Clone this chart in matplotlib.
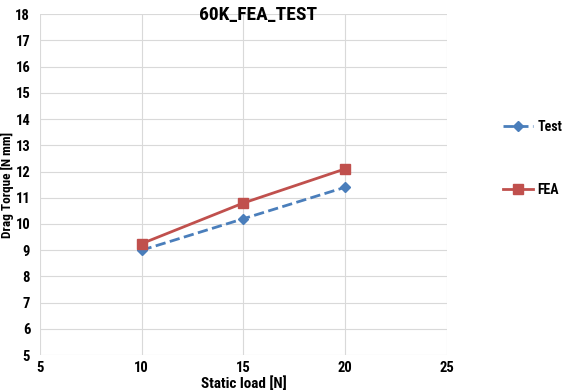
import matplotlib
matplotlib.use('Agg')
import matplotlib.pyplot as plt

load = [10, 15, 20]
test = [9.0, 10.2, 11.4]
fea = [9.25, 10.8, 12.1]
xticks = [5, 10, 15, 20, 25]
yticks = list(range(5, 19))

plt.rcParams['font.family'] = ['Roboto Condensed', 'DejaVu Sans']

fig = plt.figure(figsize=(5.7, 3.92), dpi=100)
ax = fig.add_axes([0.070, 0.094, 0.714, 0.870])
ax.plot(load, test, color='#4a7ebb', ls='--', lw=2, marker='D', ms=5, label='Test')
ax.plot(load, fea, color='#c0504d', lw=2, marker='s', ms=7, label='FEA')
ax.set_xlim(5, 25)
ax.set_ylim(5, 18)
ax.set_xticks(xticks)
ax.set_yticks(yticks)
ax.grid(True, color='#d9d9d9', lw=0.8)
ax.set_axisbelow(True)
for s in ax.spines.values():
    s.set_visible(False)
ax.tick_params(length=0, labelsize=10.5)
ax.tick_params(axis='x', pad=4)
ax.tick_params(axis='y', pad=7)
for lab in ax.get_xticklabels() + ax.get_yticklabels():
    lab.set_fontweight('bold')
ax.set_xlabel('Static load [N]', fontsize=11, fontweight='bold')
ax.set_ylabel('Drag Torque [N mm]', fontsize=9.5, fontweight='bold')
ax.xaxis.set_label_coords(0.5, -0.062)
ax.yaxis.set_label_coords(-0.063, 0.5)
fig.text(258/570, 1-15/392, '60K_FEA_TEST', ha='center', va='center', fontsize=14, fontweight='bold')

h, l = ax.get_legend_handles_labels()
fig.legend([h[0]], [l[0]], loc='center left', bbox_to_anchor=(490/570, 1-127/392), frameon=False,
           handlelength=2.2, handletextpad=0.3, prop={'size': 10, 'weight': 'bold'})
fig.legend([h[1]], [l[1]], loc='center left', bbox_to_anchor=(490/570, 1-190/392), frameon=False,
           handlelength=2.2, handletextpad=0.3, prop={'size': 10, 'weight': 'bold'})
fig.savefig('out.png', dpi=100)
